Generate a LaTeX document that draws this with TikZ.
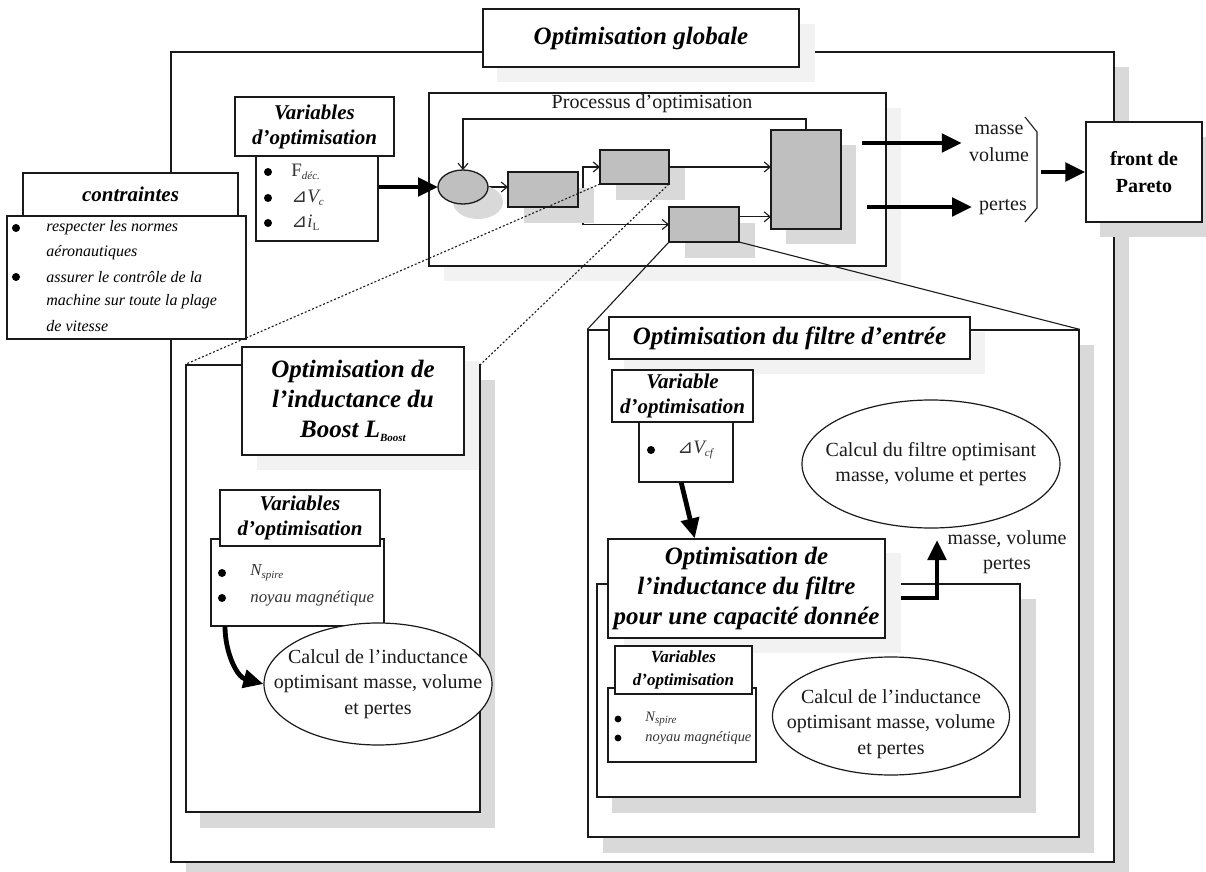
\documentclass[tikz,border=0pt]{standalone}
\usepackage{fontspec}
\setmainfont{Liberation Serif}
\newfontfamily\symf{DejaVu Sans}
\usetikzlibrary{fit,calc,arrows.meta,shapes.geometric}
\definecolor{shd}{HTML}{D9D9D9}
\definecolor{lshd}{HTML}{F2F2F2}
\definecolor{boxg}{HTML}{BFBFBF}
\definecolor{ink}{HTML}{1A1A1A}
\newcommand\tri{{\symf ⊿}}
\newcommand\sbs[1]{\raisebox{-0.35ex}{\fontsize{5.5}{6}\selectfont #1}}
\tikzset{
  frame/.style={draw=ink, line width=0.65pt, fill=white, inner sep=0pt},
  ghost/.style={inner sep=0pt, outer sep=0pt},
  gshape/.style={draw=ink, line width=0.65pt, fill=boxg},
  thk/.style={line width=2.4pt, -{Triangle[length=10pt,width=9pt]}},
  thn/.style={line width=0.55pt, draw=ink, -{Straight Barb[length=3pt,width=5pt]}},
  conn/.style={line width=0.55pt, draw=ink},
  dotl/.style={line width=0.55pt, draw=ink, dash pattern=on 1pt off 1pt},
  ell/.style={ellipse, draw=ink, line width=0.6pt, fill=white, inner sep=0pt},
  ttl/.style={font=\fontsize{12.5}{15}\selectfont\bfseries\itshape},
  hdr/.style={font=\fontsize{12.5}{15}\selectfont\bfseries\itshape, align=center},
  vhdr/.style={font=\fontsize{10.5}{12.5}\selectfont\bfseries\itshape, align=center},
  svhdr/.style={font=\fontsize{8.5}{11.5}\selectfont\bfseries\itshape, align=center},
  txt/.style={font=\fontsize{10}{12.75}\selectfont, align=center, text=ink},
  citm/.style={font=\fontsize{8}{12}\selectfont\itshape, anchor=west, inner sep=0pt},
  vitm/.style={font=\fontsize{9.5}{12}\selectfont, anchor=west, inner sep=0pt, text=black!80},
  litm/.style={font=\fontsize{8.4}{12}\selectfont\itshape, anchor=west, inner sep=0pt, text=black!80},
  sitm/.style={font=\fontsize{7.2}{10}\selectfont\itshape, anchor=west, inner sep=0pt, text=black!80},
  bul/.style={circle, fill=black, inner sep=0pt, minimum size=4pt},
  sbul/.style={circle, fill=black, inner sep=0pt, minimum size=3.4pt},
}
\begin{document}
\begin{tikzpicture}[x=0.5pt,y=-0.5pt]
\useasboundingbox (0,0) rectangle (1206,872);
% ---------------- outer frame and title
\fill[shd] (186,67) rectangle (1129,880);
\node[frame, fit={(171,52) (1114,862)}] (outer) {};
\fill[lshd] (497,24) rectangle (815,82);
\node[frame, fit={(483,9) (799,67)}] (title) {};
\node[ttl] (titletxt) at (title) {Optimisation globale};
% ---------------- contraintes
\node[frame, fit={(23,173) (238,216)}] (ch) {};
\node[vhdr] (chtxt) at (ch) {contraintes};
\node[frame, fit={(7,216) (246,339)}] (cb) {};
\node[bul] (cbu1) at (16,228) {};
\node[bul] (cbu2) at (16,277) {};
\node[citm] (c1) at (46,228) {respecter les normes};
\node[citm] (c2) at (46,253) {aéronautiques};
\node[citm] (c3) at (46,277) {assurer le contrôle de la};
\node[citm] (c4) at (46,302) {machine sur toute la plage};
\node[citm] (c5) at (46,326) {de vitesse};
% ---------------- top variables
\node[frame, fit={(256,156) (378,241)}] (vb) {};
\node[frame, fit={(235,97) (394,156)}] (vh) {};
\node[vhdr] (vhtxt) at (vh) {Variables\\d'optimisation};
\node[bul] (vbu1) at (268,172) {};
\node[bul] (vbu2) at (268,198) {};
\node[bul] (vbu3) at (268,223) {};
\node[vitm] (v1) at (291,172) {F\sbs{\itshape déc.}};
\node[vitm] (v2) at (291,198) {\tri{\itshape V}\sbs{\itshape c}};
\node[vitm] (v3) at (291,223) {\tri{\itshape i}\sbs{L}};
% ---------------- process box
\fill[lshd] (444,108) rectangle (901,281);
\node[frame, fit={(429,93) (886,266)}] (proc) {};
\node[txt] (proctxt) at (652,104) {Processus d'optimisation};
\node[ghost, ellipse, minimum width=25pt, minimum height=17pt] (E) at (463,187) {};
\node[ghost, fit={(508,172) (578,207)}] (A) {};
\node[ghost, fit={(600,150) (669,184)}] (B) {};
\node[ghost, fit={(669,207) (739,242)}] (C) {};
\node[ghost, fit={(771,130) (841,229)}] (D) {};
\draw[thn] (E.east) -- (E.east -| A.west);
\draw[thn] (A.east) -- ++(5,0) |- (B.west);
\draw[thn] (A.east) -- ++(5,0) |- (C.west);
\fill[shd] (478,202) ellipse [x radius=12.5pt, y radius=8.5pt];
\fill[shd] (524,188) rectangle (594,223);
\fill[shd] (616,166) rectangle (685,200);
\fill[shd] (685,223) rectangle (755,258);
\fill[shd] (786,145) rectangle (856,244);
\draw[gshape] (E.center) ellipse [x radius=12.5pt, y radius=8.5pt];
\draw[gshape] (A.north west) rectangle (A.south east);
\draw[gshape] (B.north west) rectangle (B.south east);
\draw[gshape] (C.north west) rectangle (C.south east);
\draw[gshape] (D.north west) rectangle (D.south east);
\coordinate (cout) at ($(C.north east)!0.28!(C.south east)$);
\draw[thn] (B.east) -- (B.east -| D.west);
\draw[thn] (cout) -- (cout -| D.west);
\draw[thn] (D.north) -- ++(0,-11) -| (E.north);
\draw[thk] (vb.east |- E.west) -- (E.west);
% ---------------- outputs and Pareto
\node[txt, font=\fontsize{10}{13.5}\selectfont] (mv) at (999,143) {masse\\volume};
\node[txt] (pt) at (1003,207) {pertes};
\coordinate (o1) at (862,143);
\coordinate (o2) at (867,207);
\draw[thk] (o1) -- (o1 -| mv.west);
\draw[thk] (o2) -- (pt.west);
\draw[conn] (1025,117) -- (1037,132) -- (1037,208) -- (1025,222);
\coordinate (br) at (1041,172);
\fill[shd] (1100,137) rectangle (1214,237);
\node[frame, fit={(1086,122) (1202,222)}] (P) {};
\node[font=\fontsize{10}{13.5}\selectfont\bfseries, align=center] (Ptxt) at (P) {front de\\Pareto};
\draw[thk] (br) -- (P.west);
% ---------------- left panel (Boost)
\fill[shd] (200,380) rectangle (495,828);
\node[frame, fit={(186,365) (480,812)}] (LP) {};
\fill[lshd] (257,361) rectangle (479,470);
\node[frame, fit={(242,347) (464,455)}] (LH) {};
\node[hdr] (LHtxt) at (LH) {Optimisation de\\l'inductance du\\Boost L\sbs{Boost}};
\node[frame, fit={(211,539) (384,626)}] (LVB) {};
\node[frame, fit={(220,490) (380,546)}] (LVH) {};
\node[vhdr] (LVHtxt) at (LVH) {Variables\\d'optimisation};
\node[bul] (lbu1) at (222,573) {};
\node[bul] (lbu2) at (222,598) {};
\node[litm] (l1) at (250,573) {N\sbs{spire}};
\node[litm] (l2) at (250,598) {noyau magnétique};
\node[ell, minimum width=114pt, minimum height=61pt] (LE) at (378,684) {};
\node[txt] (LEtxt) at (LE) {Calcul de l'inductance\\optimisant masse, volume\\et pertes};
\coordinate (ca) at (225,626);
\draw[thk] (ca) to[out=-90, in=165] (LE.west);
% ---------------- right panel (filtre)
\fill[shd] (603,345) rectangle (1094,853);
\node[frame, fit={(588,330) (1079,837)}] (RP) {};
\fill[lshd] (624,332) rectangle (985,374);
\node[frame, fit={(609,317) (970,359)}] (RH) {};
\node[hdr] (RHtxt) at (RH) {Optimisation du filtre d'entrée};
\node[frame, fit={(639,422) (733,482)}] (RVB) {};
\node[frame, fit={(612,370) (753,422)}] (RVH) {};
\node[vhdr] (RVHtxt) at (RVH) {Variable\\d'optimisation};
\node[bul] (rbu1) at (651,450) {};
\node[vitm] (r1) at (677,450) {\tri{\itshape V}\sbs{\itshape cf}};
\node[ell, minimum width=129pt, minimum height=64pt] (TE) at (931,464) {};
\node[txt] (TEtxt) at (TE) {Calcul du filtre optimisant\\masse, volume et pertes};
\fill[shd] (612,599) rectangle (1036,813);
\node[frame, fit={(597,584) (1020,797)}] (IP) {};
\fill[lshd] (624,553) rectangle (901,653);
\node[frame, fit={(608,539) (885,638)}] (BB) {};
\node[hdr] (BBtxt) at (BB) {Optimisation de\\l'inductance du filtre\\pour une capacité donnée};
\draw[thk] ($(RVB.south west)!0.45!(RVB.south east)$) -- ($(BB.north west)!0.314!(BB.north east)$);
\node[frame, fit={(608,688) (756,762)}] (SVB) {};
\node[frame, fit={(615,646) (752,694)}] (SVH) {};
\node[svhdr] (SVHtxt) at (SVH) {Variables\\d'optimisation};
\node[sbul] (sbu1) at (618,719) {};
\node[sbul] (sbu2) at (618,738) {};
\node[sitm] (s1) at (645,719) {N\sbs{spire}};
\node[sitm] (s2) at (645,738) {noyau magnétique};
\node[ell, minimum width=118.5pt, minimum height=59pt] (IE) at (891,716) {};
\node[txt] (IEtxt) at (891,724) {Calcul de l'inductance\\optimisant masse, volume\\et pertes};
\node[txt, font=\fontsize{10}{12.5}\selectfont] (mvp) at (1007,552) {masse, volume\\pertes};
\coordinate (up) at (937,540);
\draw[thk] ([xshift=7.5pt,yshift=-4.75pt]BB.east) -| (up);
% ---------------- zoom connectors
\draw[dotl] (B.south west) -- (LP.north west);
\draw[dotl] (B.south east) -- (LP.north east);
\draw[conn] (C.south west) -- (RP.north west);
\draw[conn] (C.south east) -- (RP.north east);
\end{tikzpicture}
\end{document}
